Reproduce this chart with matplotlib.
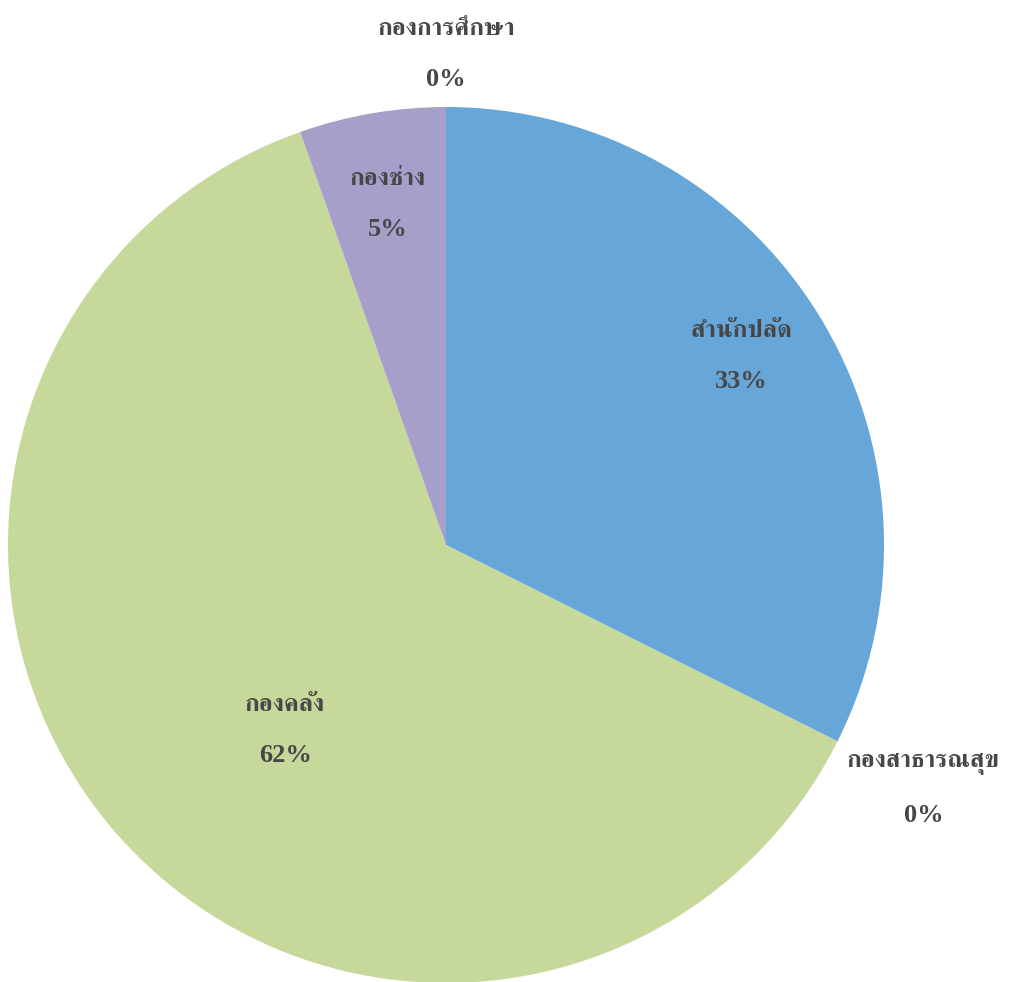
import numpy as np
import matplotlib
matplotlib.use('Agg')
import matplotlib.pyplot as plt
from matplotlib import font_manager
from matplotlib.ft2font import FT2Font

# ==================== 数据 ====================
labels = ['สำนักปลัด', 'กองสาธารณสุข', 'กองคลัง', 'กองช่าง', 'กองการศึกษา']
values = [32.4, 0, 62.2, 5.4, 0]          # slice sizes
pct_text = ['33%', '0%', '62%', '5%', '0%']  # printed labels
colors = ['#66a6d8', '#c0504d', '#c6d99b', '#a59fca', '#4bacc6']

# label distance (fraction of radius) per slice
label_dist = [0.80, 1.225, 0.56, 0.79, 1.12]
angle_shift = [0.9, -0.5, 7.6, 0.0, 0.0]


# ==================== 字体 ====================
def find_thai_font():
    found = []
    for f in font_manager.fontManager.ttflist:
        try:
            if 0x0E01 in FT2Font(f.fname).get_charmap():
                found.append(f)
        except Exception:
            pass
    if not found:
        return None
    found.sort(key=lambda f: (0 if 'erif' in f.name else 1,
                              -(f.weight if isinstance(f.weight, int) else 400)))
    return found[0].name


thai = find_thai_font()
thai_family = [thai, 'DejaVu Sans'] if thai else ['DejaVu Sans']
num_family = ['Liberation Serif', 'DejaVu Serif']
text_color = '#474747'

# ==================== 绘图 ====================
W, H, DPI = 1012, 982, 100
fig = plt.figure(figsize=(W / DPI, H / DPI), dpi=DPI)
ax = fig.add_axes([0, 0, 1, 1])

cx, cy, R = 446, 982 - 545, 438   # pixel centre / radius

plot_vals = [v if v > 0 else 1e-9 for v in values]
wedges, _ = ax.pie(plot_vals, colors=colors, startangle=90, counterclock=False,
                   radius=1.0, center=(0, 0), wedgeprops=dict(linewidth=0))

ax.set_xlim(-cx / R, (W - cx) / R)
ax.set_ylim(-cy / R, (H - cy) / R)
ax.set_aspect('auto')
ax.axis('off')

for w, lab, pt, d, sh in zip(wedges, labels, pct_text, label_dist, angle_shift):
    mid = np.deg2rad((w.theta1 + w.theta2) / 2 + sh)
    x, y = d * np.cos(mid), d * np.sin(mid)
    ax.text(x, y + 0.058, lab, ha='center', va='center', fontsize=18,
            fontweight='bold', family=thai_family, color=text_color)
    ax.text(x, y - 0.058, pt, ha='center', va='center', fontsize=19,
            fontweight='bold', family=num_family, color=text_color)

fig.savefig('out.png', dpi=DPI, facecolor='white')
